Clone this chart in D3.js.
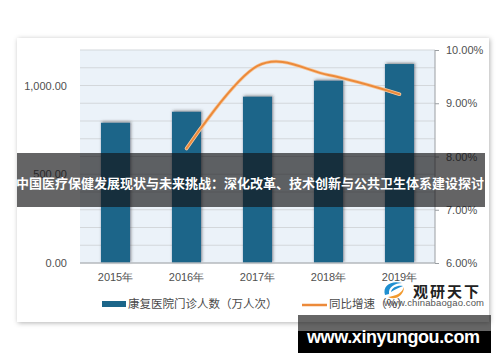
<!DOCTYPE html>
<html>
<head>
<meta charset="utf-8">
<script src="https://cdn.jsdelivr.net/npm/d3@7"></script>
<style>
  body { margin: 0; background: #fff; }
  svg { display: block; font-family: "Noto Sans CJK SC", "Liberation Sans", sans-serif; }
</style>
</head>
<body>
<svg id="chart"></svg>
<script>
// data
const years = ['2015年', '2016年', '2017年', '2018年', '2019年'];
const visits = [790, 852, 937, 1027, 1121];          // 康复医院门诊人数（万人次）
const growth = [null, 8.15, 9.70, 9.53, 9.17];       // 同比增速（%）
const leftTicks = [0, 500, 1000];
const rightTicks = [6, 7, 8, 9, 10];
const legendLabels = ['康复医院门诊人数（万人次）', '同比增速（%）'];
const title = '中国医疗保健发展现状与未来挑战：深化改革、技术创新与公共卫生体系建设探讨';

const W = 500, H = 362;
const margin = {top: 50, right: 65, bottom: 99, left: 80};
const width = W - margin.left - margin.right;
const height = H - margin.top - margin.bottom;

const svg = d3.select('#chart').attr('width', W).attr('height', H);

const defs = svg.append('defs');
const cardShadow = defs.append('filter').attr('id', 'cardShadow')
    .attr('x', '-5%').attr('y', '-5%').attr('width', '110%').attr('height', '110%');
cardShadow.append('feDropShadow')
    .attr('dx', 1).attr('dy', 1).attr('stdDeviation', 2.5)
    .attr('flood-color', '#000').attr('flood-opacity', 0.3);
const barShadow = defs.append('filter').attr('id', 'barShadow')
    .attr('x', '-30%').attr('y', '-10%').attr('width', '160%').attr('height', '120%');
barShadow.append('feDropShadow')
    .attr('dx', 1).attr('dy', -1).attr('stdDeviation', 1.8)
    .attr('flood-color', '#333').attr('flood-opacity', 0.55);

// white card
svg.append('rect')
    .attr('x', 17).attr('y', 38).attr('width', 472).attr('height', 284)
    .attr('fill', '#fff').attr('filter', 'url(#cardShadow)');

const chart = svg.append('g').attr('transform', `translate(${margin.left},${margin.top})`);

// scales
const x = d3.scaleBand().domain(years).range([0, width]).paddingInner(0.59).paddingOuter(0.295);
const yL = d3.scaleLinear().domain([0, 1200]).range([height, 0]);
const yR = d3.scaleLinear().domain([6, 10]).range([height, 0]);

// plot background + grid
chart.append('rect').attr('width', width).attr('height', height).attr('fill', '#ebf2f9');
chart.append('g')
    .selectAll('line')
    .data(d3.range(100, 1201, 100))
    .join('line')
    .attr('x1', 0).attr('x2', width)
    .attr('y1', d => yL(d)).attr('y2', d => yL(d))
    .attr('stroke', '#d3d7db').attr('stroke-width', 1);

// bars
chart.selectAll('.bar')
    .data(visits)
  .join('rect')
    .attr('class', 'bar')
    .attr('x', (d, i) => x(years[i]))
    .attr('width', x.bandwidth())
    .attr('y', d => yL(d))
    .attr('height', d => height - yL(d))
    .attr('fill', '#1b6589')
    .attr('filter', 'url(#barShadow)');

// baseline
chart.append('line')
    .attr('x1', 0).attr('x2', width).attr('y1', height).attr('y2', height)
    .attr('stroke', '#b5b9bd').attr('stroke-width', 1.5);

// growth line
const pts = growth.map((v, i) => [x(years[i]) + x.bandwidth() / 2, v]).filter(p => p[1] !== null);
const line = d3.line().x(d => d[0]).y(d => yR(d[1])).curve(d3.curveCardinal.tension(0));
chart.append('path').datum(pts)
    .attr('d', line).attr('fill', 'none')
    .attr('stroke', '#f6c9a0').attr('stroke-width', 3.6).attr('stroke-linecap', 'round');
chart.append('path').datum(pts)
    .attr('d', line).attr('fill', 'none')
    .attr('stroke', '#ec8a3a').attr('stroke-width', 2).attr('stroke-linecap', 'round');

// axes
const xAxis = d3.axisBottom(x).tickSize(0).tickPadding(10);
const xAxisG = chart.append('g').attr('transform', `translate(0,${height})`).call(xAxis);
xAxisG.select('.domain').remove();
xAxisG.selectAll('text').attr('font-size', 11).attr('fill', '#505050');

const yAxisL = d3.axisLeft(yL).tickValues(leftTicks).tickSize(0).tickPadding(13)
    .tickFormat(d3.format(',.2f'));
const yLG = chart.append('g').call(yAxisL);
yLG.select('.domain').remove();
yLG.selectAll('text').attr('font-size', 11).attr('fill', '#505050')
    .attr('font-family', '"Liberation Sans", sans-serif');

const yAxisR = d3.axisRight(yR).tickValues(rightTicks).tickSize(4).tickPadding(7)
    .tickFormat(d => d.toFixed(2) + '%');
const yRG = chart.append('g').attr('transform', `translate(${width},0)`).call(yAxisR);
yRG.select('.domain').attr('stroke', '#9a9ea2').attr('d', `M0,0V${height}`);
yRG.selectAll('.tick line').attr('stroke', '#9a9ea2');
yRG.selectAll('text').attr('font-size', 11).attr('fill', '#505050')
    .attr('font-family', '"Liberation Sans", sans-serif');

// legend
const legend = svg.append('g').attr('font-size', 11.5).attr('fill', '#4a4a4a');
legend.append('rect').attr('x', 102).attr('y', 301).attr('width', 24).attr('height', 6).attr('fill', '#1b6589');
legend.append('text').attr('x', 128).attr('y', 304).attr('dy', '0.35em').text(legendLabels[0]);
legend.append('line').attr('x1', 302).attr('x2', 327).attr('y1', 305).attr('y2', 305)
    .attr('stroke', '#ec8a3a').attr('stroke-width', 2.5);
legend.append('text').attr('x', 329).attr('y', 304).attr('dy', '0.35em').text(legendLabels[1]);

// watermark logo
const logo = svg.append('g').attr('transform', 'translate(394,291)');
logo.append('path').attr('d', 'M-9,4 C-12,-6 -2,-11 8,-8 C1,-8 -6,-4 -5,3 Z').attr('fill', '#1f8fd0');
logo.append('path').attr('d', 'M-6,6 C2,10 10,4 10,-4 C8,2 2,5 -6,6 Z').attr('fill', '#f29a2e');
logo.append('path').attr('d', 'M-3,1 C-2,-4 4,-6 9,-5 C4,-3 0,-1 -3,1 Z').attr('fill', '#1f8fd0');
svg.append('text').attr('x', 413).attr('y', 297)
    .attr('font-size', 15).attr('font-weight', 'bold').attr('fill', '#222')
    .attr('textLength', 66).text('观研天下');
svg.append('text').attr('x', 384).attr('y', 306)
    .attr('font-size', 9.5).attr('fill', '#555').attr('font-family', '"Liberation Sans", sans-serif')
    .attr('textLength', 100).text('www.chinabaogao.com');

// title overlay
svg.append('rect').attr('x', 17).attr('y', 153).attr('width', 468).attr('height', 54)
    .attr('fill', 'rgba(20,20,22,0.66)');
svg.append('text').attr('x', 250).attr('y', 188).attr('text-anchor', 'middle')
    .attr('font-size', 13).attr('font-weight', 'bold').attr('fill', '#fff')
    .text(title);

// site footer box
svg.append('rect').attr('x', 298).attr('y', 315).attr('width', 193).attr('height', 16)
    .attr('fill', 'rgba(20,20,20,0.65)');
svg.append('rect').attr('x', 298).attr('y', 331).attr('width', 193).attr('height', 22)
    .attr('fill', '#000');
svg.append('text').attr('x', 307).attr('y', 343)
    .attr('font-family', '"Liberation Sans", sans-serif').attr('font-size', 18)
    .attr('font-weight', 'bold').attr('fill', '#fff')
    .attr('textLength', 173).text('www.xinyungou.com');
</script>
</body>
</html>
